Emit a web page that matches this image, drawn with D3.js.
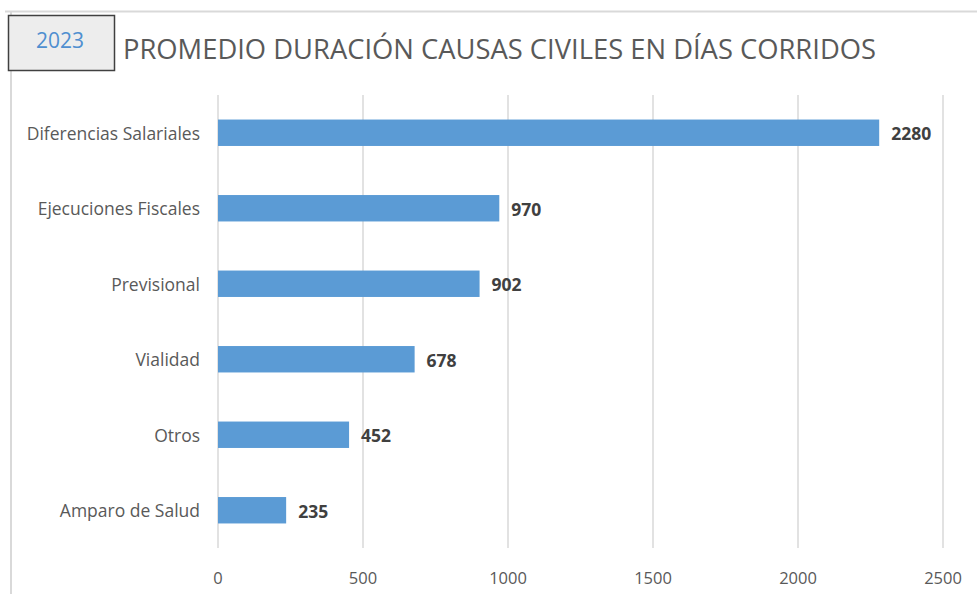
<!DOCTYPE html>
<html>
<head>
<meta charset="utf-8">
<script src="https://cdn.jsdelivr.net/npm/d3@7"></script>
<style>
  body { margin: 0; background: #fff; }
  text { font-family: "Open Sans", "Noto Sans", sans-serif; }
</style>
</head>
<body>
<svg id="chart" width="977" height="594"></svg>
<script>
const categories = ["Diferencias Salariales", "Ejecuciones Fiscales", "Previsional", "Vialidad", "Otros", "Amparo de Salud"];
const values = [2280, 970, 902, 678, 452, 235];
const xTicks = [0, 500, 1000, 1500, 2000, 2500];
const yearLabel = "2023";
const title = "PROMEDIO DURACIÓN CAUSAS CIVILES EN DÍAS CORRIDOS";

const width = 977, height = 594;
const margin = { top: 95, right: 34, bottom: 46, left: 218 };

const svg = d3.select("#chart");

// frame lines (top and left)
svg.append("line")
  .attr("x1", 5).attr("x2", width).attr("y1", 11.5).attr("y2", 11.5)
  .attr("stroke", "#d9d9d9").attr("stroke-width", 2);
svg.append("line")
  .attr("x1", 11).attr("x2", 11).attr("y1", 11).attr("y2", height)
  .attr("stroke", "#d9d9d9").attr("stroke-width", 2);

// year box
svg.append("rect")
  .attr("x", 8.5).attr("y", 15.5).attr("width", 106).attr("height", 55)
  .attr("fill", "#ededed").attr("stroke", "#404040").attr("stroke-width", 1.5);
svg.append("text")
  .attr("x", 60).attr("y", 48)
  .attr("text-anchor", "middle")
  .attr("font-family", "'Liberation Sans', Arial, sans-serif")
  .attr("font-size", 21)
  .attr("fill", "#4f8fd0")
  .text(yearLabel);

svg.append("text")
  .attr("x", 123).attr("y", 59)
  .attr("font-size", 27)
  .attr("fill", "#595959")
  .attr("textLength", 753)
  .attr("lengthAdjust", "spacingAndGlyphs")
  .text(title);

const x = d3.scaleLinear()
  .domain([0, 2500])
  .range([margin.left, width - margin.right]);

const y = d3.scaleBand()
  .domain(categories)
  .range([margin.top, height - margin.bottom])
  .paddingInner(0.65)
  .paddingOuter(0.325);

// gridlines
svg.append("g")
  .selectAll("line")
  .data(xTicks)
  .join("line")
  .attr("x1", d => x(d)).attr("x2", d => x(d))
  .attr("y1", margin.top).attr("y2", height - margin.bottom)
  .attr("stroke", "#d9d9d9").attr("stroke-width", 1.5);

// x tick labels
svg.append("g")
  .selectAll("text")
  .data(xTicks)
  .join("text")
  .attr("x", d => x(d))
  .attr("y", 584)
  .attr("text-anchor", "middle")
  .attr("font-size", 16.5)
  .attr("fill", "#595959")
  .text(d => d);

// bars
svg.append("g")
  .selectAll("rect")
  .data(categories)
  .join("rect")
  .attr("x", x(0))
  .attr("y", d => y(d))
  .attr("width", (d, i) => x(values[i]) - x(0))
  .attr("height", y.bandwidth())
  .attr("fill", "#5b9bd5");

// category labels
svg.append("g")
  .selectAll("text")
  .data(categories)
  .join("text")
  .attr("x", 200)
  .attr("y", d => y(d) + y.bandwidth() / 2 + 1)
  .attr("dy", "0.35em")
  .attr("text-anchor", "end")
  .attr("font-size", 17.5)
  .attr("fill", "#595959")
  .text(d => d);

// value labels
svg.append("g")
  .selectAll("text")
  .data(categories)
  .join("text")
  .attr("x", (d, i) => x(values[i]) + 12)
  .attr("y", d => y(d) + y.bandwidth() / 2 + 1.5)
  .attr("dy", "0.35em")
  .attr("font-size", 17.5)
  .attr("font-weight", "bold")
  .attr("fill", "#404040")
  .text((d, i) => values[i]);
</script>
</body>
</html>
